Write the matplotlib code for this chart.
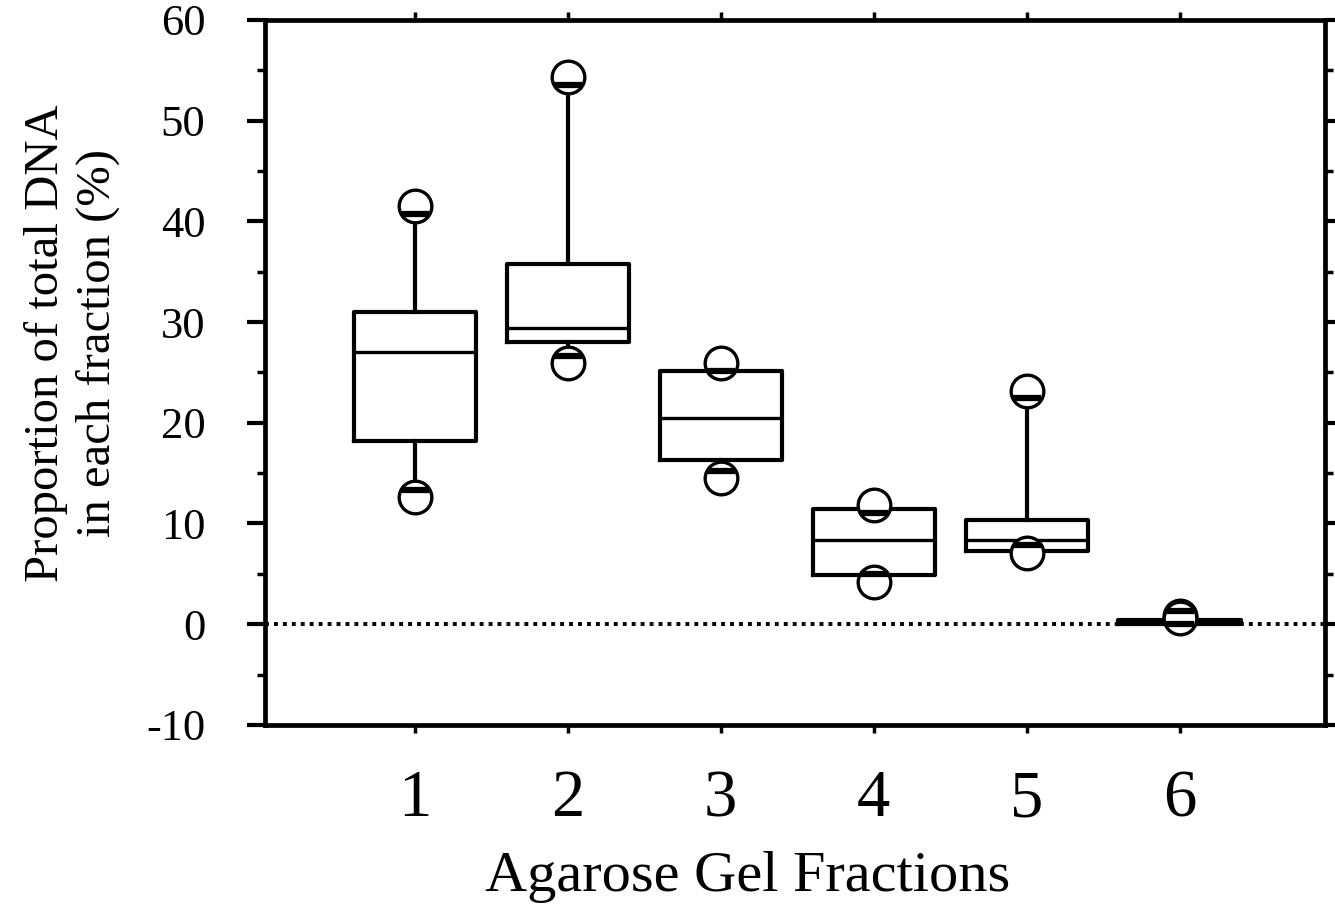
import matplotlib
matplotlib.use("Agg")
import matplotlib.pyplot as plt
from matplotlib.ticker import MultipleLocator, FixedLocator

plt.rcParams['font.family'] = ['Liberation Serif', 'DejaVu Serif']

# ---- data ----
categories = ['1', '2', '3', '4', '5', '6']
positions = [1, 2, 3, 4, 5, 6]
q1 = [18.2, 28.0, 16.3, 4.9, 7.3, 0.0]
median = [27.0, 29.4, 20.5, 8.4, 8.4, 0.2]
q3 = [31.0, 35.8, 25.1, 11.4, 10.3, 0.4]
whisker_lo = [12.6, 25.9, 14.5, 4.2, 7.1, 0.6]
whisker_hi = [41.5, 54.3, 25.9, 11.8, 23.2, 0.8]
y_ticks = [-10, 0, 10, 20, 30, 40, 50, 60]

fig = plt.figure(figsize=(13.35, 9.05), dpi=100)
ax = fig.add_axes([0.1985, 0.199, 0.794, 0.779])

stats = []
for i in range(len(categories)):
    stats.append(dict(med=median[i], q1=q1[i], q3=q3[i],
                      whislo=whisker_lo[i], whishi=whisker_hi[i],
                      fliers=[], label=categories[i]))

lw = 3.0
ax.bxp(stats, positions=positions, widths=0.8, showfliers=False, showcaps=False,
       boxprops=dict(color='black', linewidth=lw, zorder=2),
       whiskerprops=dict(color='black', linewidth=lw, zorder=2),
       medianprops=dict(color='black', linewidth=2.4, zorder=2),
       manage_ticks=False)

# circles at whisker ends: white interior, thick chord on the whisker side
ms = 23.5
for i, p in enumerate(positions):
    for val, sgn in ((whisker_hi[i], -1), (whisker_lo[i], 1)):
        ax.plot([p], [val], marker='o', markersize=ms, markerfacecolor='white',
                markeredgecolor='black', markeredgewidth=2.4, zorder=4)
        ax.plot([p - 0.092, p + 0.092], [val + sgn * 0.75] * 2, color='black',
                lw=4.5, solid_capstyle='butt', zorder=5)

# dotted zero line
ax.axhline(0, color='black', lw=2.8, linestyle=(0, (1, 1.3)), zorder=1)

ax.set_xlim(0.02, 6.95)
ax.set_ylim(-10, 60)

for s in ax.spines.values():
    s.set_linewidth(3.4)

ax.yaxis.set_major_locator(FixedLocator(y_ticks))
ax.yaxis.set_minor_locator(MultipleLocator(5))
ax.set_yticklabels([str(v) for v in y_ticks])
ax.xaxis.set_major_locator(FixedLocator(positions))
ax.set_xticklabels(categories)

ax.tick_params(axis='y', which='major', direction='out', length=13, width=3,
               labelsize=32, pad=30, left=True, right=True, labelright=False)
ax.tick_params(axis='y', which='minor', direction='out', length=6, width=2.5,
               left=True, right=True)
ax.tick_params(axis='x', which='major', direction='out', length=6, width=2.5,
               labelsize=48, pad=26, top=True, bottom=True)

fig.text(748 / 1335, 1 - 877 / 905, 'Agarose Gel Fractions', fontsize=42,
         ha='center', va='center')
fig.text(72 / 1335, 1 - 343 / 905, 'Proportion of total DNA\nin each fraction (%)',
         fontsize=35, rotation=90, ha='center', va='center', linespacing=1.2,
         multialignment='center')

fig.savefig('out.png', dpi=100)
